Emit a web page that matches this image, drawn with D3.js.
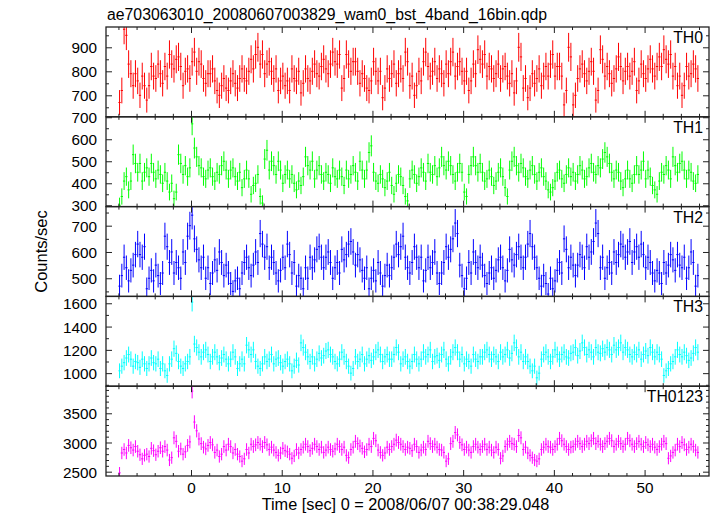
<!DOCTYPE html>
<html><head><meta charset="utf-8">
<script src="https://cdn.jsdelivr.net/npm/d3@7"></script>
<style>
body{margin:0;background:#fff}
svg text{font-family:"Liberation Sans",Arial,Helvetica,sans-serif;fill:#000}
</style>
</head><body><svg id="c" width="717" height="516"></svg>
<script>
// ---- data (count rates, counts/sec, 0.25 s bins) ----
const binStart = -7.875;   // centre of first bin [sec]
const binWidth = 0.25;     // [sec]
const panelNames = ["TH0","TH1","TH2","TH3","TH0123"];
const th0 = [
 670,720,975,950,830,790,740,790,760,700,780,740,680,740,820,780,770,830,790,750,
 820,780,870,830,810,850,860,820,740,800,810,770,840,880,800,840,830,770,750,790,
 790,810,760,720,700,740,770,730,720,760,790,750,730,770,810,770,760,800,850,810,
 870,900,830,870,790,830,840,800,770,810,720,760,780,740,760,720,810,770,760,800,
 710,750,810,770,760,800,830,790,780,820,850,810,790,830,880,840,830,870,730,770,
 870,830,800,840,840,800,750,790,770,730,720,760,840,800,760,800,690,730,810,770,
 790,830,750,790,810,770,880,840,740,780,700,740,800,760,840,880,820,780,800,840,
 770,810,790,750,830,790,840,880,780,820,840,800,760,800,720,760,830,790,890,850,
 830,870,780,820,810,770,790,830,770,810,820,780,750,790,710,760,900,860,730,770,
 690,730,790,750,770,810,740,780,820,780,830,870,780,820,820,780,660,720,900,860,
 660,700,770,810,830,790,760,800,840,800,680,720,890,850,780,820,790,750,770,810,
 860,820,760,800,820,780,800,840,720,760,830,790,770,810,850,810,780,820,860,820,
 890,850,830,870,780,820,740,780,700,740,820,780,790,830,810,770];
const th1 = [
 300,340,410,430,370,410,530,490,450,490,410,450,470,430,490,450,420,460,440,400,
 450,410,360,400,330,360,530,490,440,480,430,470,670,560,520,480,470,430,420,460,
 470,430,410,450,440,480,500,460,420,460,470,430,410,450,380,420,460,420,350,390,
 400,440,340,310,510,550,460,500,480,440,500,460,400,440,460,420,440,400,370,410,
 390,430,520,480,460,500,420,460,480,440,410,450,440,400,470,430,420,460,430,390,
 460,420,440,480,450,410,500,460,420,460,540,570,450,410,400,440,420,380,410,450,
 390,350,400,440,430,390,340,320,420,460,440,400,430,470,450,410,490,450,440,480,
 430,470,520,480,460,500,480,440,410,450,490,450,360,340,440,480,520,480,450,490,
 450,410,420,460,430,390,410,450,470,430,380,340,460,500,520,480,450,490,470,430,
 420,460,480,440,410,450,470,430,410,370,360,380,410,450,460,420,400,440,470,430,
 450,410,440,480,460,420,430,470,490,450,440,480,470,510,540,520,490,450,420,460,
 450,410,380,420,460,420,400,440,480,440,460,500,420,460,430,390,370,350,410,450,
 440,480,460,420,520,480,450,490,500,460,420,460,450,410,400,440];
const th2 = [
 470,510,580,540,490,530,550,590,630,590,580,620,460,500,530,490,550,510,480,520,
 660,620,560,600,520,560,540,500,600,560,660,700,740,650,610,570,540,580,500,540,
 480,520,570,530,600,560,510,550,520,480,450,490,500,460,520,560,580,540,510,550,
 600,560,670,630,580,620,540,580,560,520,490,530,580,540,630,590,520,560,470,510,
 500,460,540,500,580,540,570,610,620,580,540,580,600,560,500,540,560,520,610,570,
 590,630,640,600,550,590,570,530,500,540,460,500,530,490,560,520,470,510,550,510,
 540,580,630,590,620,660,580,540,520,560,620,580,540,580,490,530,580,540,560,600,
 520,480,520,560,620,580,610,650,710,670,550,510,460,500,560,520,600,560,540,580,
 550,510,480,520,540,500,530,570,580,540,490,530,610,570,550,590,620,580,540,580,
 630,670,620,580,540,500,470,510,480,440,500,460,490,530,560,520,650,610,540,580,
 550,510,550,590,580,540,620,580,600,640,710,670,540,580,500,540,560,520,600,560,
 590,630,620,580,600,640,560,600,620,580,630,590,540,580,560,520,490,530,520,480,
 560,520,550,590,570,530,590,550,540,580,500,540,600,560,470,510];
const th3 = [
 1020,1060,1090,1130,1160,1120,1060,1100,1090,1050,1120,1080,1040,1080,1130,1090,1080,1120,1040,1080,
 1020,980,1080,1120,1210,1170,1100,1060,1040,1080,1100,1140,1610,1250,1220,1180,1140,1180,1200,1160,
 1100,1140,1180,1140,1090,1130,1160,1120,1080,1120,1180,1140,1040,1080,1120,1080,1240,1200,1160,1200,
 1100,1060,1040,1080,1140,1100,1120,1160,1080,1120,1130,1090,1060,1100,1120,1080,1020,1060,1110,1070,
 1260,1220,1180,1140,1100,1140,1080,1120,1170,1130,1150,1190,1200,1160,1140,1100,1080,1120,1180,1140,
 1100,1060,1000,1040,1140,1100,1120,1160,1080,1120,1150,1110,1140,1180,1200,1160,1100,1140,1160,1120,
 1120,1160,1220,1180,1080,1120,1140,1100,1060,1100,1160,1120,1080,1120,1180,1140,1160,1200,1100,1140,
 1150,1110,1160,1200,1120,1080,1140,1180,1220,1180,1120,1160,1080,1120,1100,1060,1160,1120,1100,1140,
 1140,1180,1200,1160,1120,1160,1140,1100,1180,1140,1160,1200,1130,1170,1260,1220,1140,1180,1100,1140,
 1100,1060,1020,1060,960,1000,1120,1160,1180,1140,1100,1140,1200,1160,1120,1160,1180,1140,1130,1170,
 1180,1220,1150,1190,1260,1220,1160,1200,1180,1140,1220,1180,1170,1210,1180,1220,1200,1160,1240,1200,
 1220,1260,1180,1220,1200,1160,1140,1180,1160,1200,1120,1160,1190,1150,1220,1180,1140,1180,1160,1120,
 980,1020,1040,1080,1100,1140,1200,1160,1140,1180,1150,1110,1130,1170,1220,1180];
const th0123 = [
 2480,2820,2880,2820,2950,2910,2870,2930,2850,2790,2720,2780,2800,2760,2900,2860,2790,2850,2910,2850,
 2930,2870,2700,2740,3080,3020,2850,2890,2800,2840,2950,3010,3880,3350,3200,3060,2980,2920,2890,2950,
 3000,2960,2830,2870,2760,2800,2930,2870,2970,2930,2820,2880,2800,2760,2680,2720,2880,2820,2970,2930,
 2960,3000,2970,2930,3000,2960,2880,2920,2870,2830,2780,2820,2900,2860,2840,2800,2730,2770,2880,2820,
 2880,2920,2970,2930,2860,2900,2970,2930,2880,2920,2830,2870,2920,2880,2850,2890,2970,2930,2880,2920,
 2780,2740,2880,2920,3020,2980,2940,2900,2840,2880,2970,2930,3070,3030,2870,2830,2780,2820,2920,2880,
 2930,2970,3040,3000,2970,2930,2880,2920,2900,2860,2970,2930,2830,2870,2920,2880,3020,2980,2930,2970,
 2920,2880,2870,2830,2680,2720,2980,3020,3170,3130,3000,2960,2880,2920,2870,2830,2930,2970,2920,2880,
 2930,2970,2880,2920,2870,2830,2920,2880,2730,2770,2930,2970,3020,2980,2970,2930,3120,3080,2880,2920,
 2820,2780,2740,2700,2680,2720,2880,2920,2970,2930,2920,2880,2930,2970,3070,3030,2970,2930,2880,2920,
 2930,2970,3020,2980,2930,2970,3020,2980,3030,3070,2980,3020,2970,2930,2980,3020,3070,3030,2930,2970,
 3020,2980,2930,2970,3070,3030,2970,2930,2980,3020,2970,2930,3000,2960,2930,2970,2920,2880,2930,2970,
 3020,2980,2730,2770,2830,2870,2970,2930,3000,2960,2880,2920,2970,2930,2870,2830];
const seriesValues = [th0, th1, th2, th3, th0123];

// tick labels
const xTickLabels = [0,10,20,30,40,50];
const yTickLabels = [[700,800,900],[300,400,500,600,700],[500,600,700],[1000,1200,1400,1600],[2500,3000,3500]];

const titleText = "ae703063010_20080607003829_wam0_bst_4band_16bin.qdp";
const xLabelText = "Time [sec] 0 = 2008/06/07 00:38:29.048";
const yLabelText = "Counts/sec";

// ---- layout / style ----
const colors = ["#ff0000","#00ff00","#0000ff","#00ffff","#ff00ff"];
const yDomains = [[610.4,984.6],[294,702],[431,772.6],[888,1659],[2426,3964]];
const yMinorStep = [50,50,50,100,100];
const L = 106, R = 709, T = 27, PH = 89.8;

const svg = d3.select("#c");
const x = d3.scaleLinear().domain([-9.37, 57.1]).range([L, R]);
const xMinor = d3.range(-8, 57.01, 2);
const fmt = d3.format("d");

svg.append("text").attr("x", 107).attr("y", 20).attr("font-size", 15.8).text(titleText);

const defs = svg.append("defs");

panelNames.forEach((name, pi) => {
  const top = T + pi * PH, bot = top + PH;
  const y = d3.scaleLinear().domain(yDomains[pi]).range([bot, top]);
  const vals = seriesValues[pi];
  const times = vals.map((v, i) => binStart + i * binWidth);
  const g = svg.append("g");

  defs.append("clipPath").attr("id", "clip" + pi)
    .append("rect").attr("x", L).attr("y", top).attr("width", R - L).attr("height", PH);

  // error-bar crosses (Poisson errors of the binned counts)
  let dPath = "";
  vals.forEach((v, i) => {
    const t = times[i];
    const err = Math.sqrt(v * binWidth) / binWidth;
    const cx = x(t);
    dPath += `M${cx},${y(v - err)}V${y(v + err)}`;
    dPath += `M${x(t - binWidth / 2)},${y(v)}H${x(t + binWidth / 2)}`;
  });
  g.append("path").attr("d", dPath).attr("clip-path", `url(#clip${pi})`)
    .attr("fill", "none").attr("stroke", colors[pi]).attr("stroke-width", 1);

  // y axes
  const [d0, d1] = yDomains[pi];
  const yMin = d3.range(Math.ceil(d0 / yMinorStep[pi]) * yMinorStep[pi], d1, yMinorStep[pi]);
  const yMaj = yTickLabels[pi].filter(v => v >= d0 && v <= d1);
  const yMn = yMin.filter(v => !yMaj.includes(v));
  const axL = g.append("g").attr("transform", `translate(${L},0)`)
    .call(d3.axisLeft(y).tickValues(yMaj).tickSizeInner(-6).tickSizeOuter(0).tickPadding(9).tickFormat(fmt));
  axL.selectAll("text").attr("font-size", 15.3).attr("dy", "0.36em");
  g.append("g").attr("transform", `translate(${L},0)`)
    .call(d3.axisLeft(y).tickValues(yMn).tickSizeInner(-3).tickSizeOuter(0).tickFormat(""));
  g.append("g").attr("transform", `translate(${R},0)`)
    .call(d3.axisRight(y).tickValues(yMaj).tickSizeInner(-6).tickSizeOuter(0).tickFormat(""));
  g.append("g").attr("transform", `translate(${R},0)`)
    .call(d3.axisRight(y).tickValues(yMn).tickSizeInner(-3).tickSizeOuter(0).tickFormat(""));

  // x ticks top / bottom
  const xMaj = xMinor.filter(v => v % 10 === 0);
  const xMn = xMinor.filter(v => v % 10 !== 0);
  g.append("g").attr("transform", `translate(0,${top})`)
    .call(d3.axisTop(x).tickValues(xMaj).tickSizeInner(-6).tickSizeOuter(0).tickFormat(""));
  g.append("g").attr("transform", `translate(0,${top})`)
    .call(d3.axisTop(x).tickValues(xMn).tickSizeInner(-3).tickSizeOuter(0).tickFormat(""));
  const axB = g.append("g").attr("transform", `translate(0,${bot})`)
    .call(d3.axisBottom(x).tickValues(xMaj).tickSizeInner(-6).tickSizeOuter(0)
      .tickFormat(pi === panelNames.length - 1 ? d => (xTickLabels.includes(d) ? fmt(d) : "") : ""));
  axB.selectAll("text").attr("font-size", 15.3).attr("dy", 0).attr("y", 17);
  g.append("g").attr("transform", `translate(0,${bot})`)
    .call(d3.axisBottom(x).tickValues(xMn).tickSizeInner(-3).tickSizeOuter(0).tickFormat(""));

  g.selectAll(".domain").remove();
  g.selectAll(".tick line").attr("stroke", "#222").attr("stroke-width", 1);

  // frame
  g.append("rect").attr("x", L).attr("y", top).attr("width", R - L).attr("height", PH)
    .attr("fill", "none").attr("stroke", "#222").attr("stroke-width", 1.3);

  // panel label
  g.append("text").attr("x", 703).attr("y", top + 16).attr("text-anchor", "end")
    .attr("font-size", 15.8).text(name);
});

svg.append("text").attr("x", (L + R) / 2 - 2).attr("y", 510).attr("text-anchor", "middle")
  .attr("font-size", 16.3).text(xLabelText);
svg.append("text").attr("transform", `translate(47,${T + 2.5 * PH}) rotate(-90)`)
  .attr("text-anchor", "middle").attr("font-size", 16.5).text(yLabelText);
</script>
</body></html>
